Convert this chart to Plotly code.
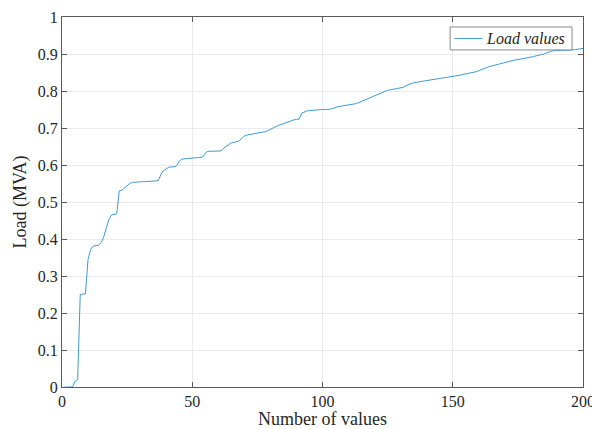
import plotly.graph_objects as go

load_values = [
    0.0, 0.0, 0.0, 0.0, 0.015, 0.02, 0.25, 0.25, 0.252, 0.345,
    0.372, 0.381, 0.383, 0.383, 0.39, 0.405, 0.43, 0.452, 0.465, 0.467,
    0.468, 0.53, 0.532, 0.538, 0.545, 0.55, 0.553, 0.554, 0.555, 0.555,
    0.555, 0.555, 0.555, 0.556, 0.556, 0.557, 0.558, 0.575, 0.585, 0.59,
    0.594, 0.595, 0.595, 0.598, 0.61, 0.616, 0.617, 0.618, 0.618, 0.618,
    0.619, 0.62, 0.62, 0.622, 0.632, 0.637, 0.637, 0.637, 0.638, 0.638,
    0.638, 0.645, 0.65, 0.656, 0.66, 0.661, 0.662, 0.665, 0.672, 0.678,
    0.681, 0.682, 0.683, 0.684, 0.685, 0.686, 0.688, 0.69, 0.693, 0.697,
    0.701, 0.704, 0.707, 0.709, 0.712, 0.715, 0.718, 0.72, 0.722, 0.723,
    0.724, 0.74, 0.744, 0.746, 0.747, 0.748, 0.748, 0.749, 0.749, 0.75,
    0.75, 0.75, 0.751, 0.753, 0.756, 0.758, 0.759, 0.76, 0.761, 0.762,
    0.763, 0.765, 0.766, 0.769, 0.772, 0.775, 0.778, 0.78, 0.783, 0.786,
    0.79, 0.794, 0.796, 0.799, 0.802, 0.803, 0.804, 0.805, 0.806, 0.807,
    0.81, 0.814, 0.818, 0.82, 0.822, 0.824, 0.825, 0.826, 0.827, 0.828,
    0.829, 0.83, 0.831, 0.832, 0.833, 0.834, 0.835, 0.836, 0.838, 0.839,
    0.84, 0.842, 0.843, 0.845, 0.846, 0.848, 0.849, 0.851, 0.852, 0.855,
    0.857, 0.86, 0.863, 0.866, 0.868, 0.869, 0.871, 0.874, 0.876, 0.878,
    0.879, 0.881, 0.883, 0.884, 0.885, 0.886, 0.888, 0.889, 0.89, 0.892,
    0.893, 0.895, 0.896, 0.898, 0.9, 0.903, 0.906, 0.908, 0.909, 0.909,
    0.909, 0.909, 0.91, 0.91, 0.91, 0.911, 0.912, 0.913, 0.914, 0.915,
]
sample_index = list(range(1, len(load_values) + 1))
series_name = "Load values"

x_ticks = [0, 50, 100, 150, 200]
y_ticks = [0, 0.1, 0.2, 0.3, 0.4, 0.5, 0.6, 0.7, 0.8, 0.9, 1]
y_tick_labels = ["0", "0.1", "0.2", "0.3", "0.4", "0.5", "0.6", "0.7", "0.8", "0.9", "1"]

FONT = "Times New Roman"
TXT = "#262626"
AX = "#5a5a5a"
GRID = "#ebebeb"
LINE = "#3f9ad3"

fig = go.Figure()
fig.add_trace(go.Scatter(
    x=sample_index, y=load_values, mode="lines",
    name=series_name, showlegend=False,
    line=dict(color=LINE, width=1),
))

axis_common = dict(
    showline=True, linecolor=AX, linewidth=1, mirror="ticks",
    ticks="inside", ticklen=5, tickcolor=AX, tickwidth=1,
    showgrid=True, gridcolor=GRID, gridwidth=1, zeroline=False,
    tickfont=dict(family=FONT, size=16, color=TXT),
    automargin=False,
)

fig.update_xaxes(
    range=[0, 200], tickvals=x_ticks, ticktext=[str(v) for v in x_ticks],
    title=dict(text="Number of values", font=dict(family=FONT, size=18, color=TXT), standoff=2),
    **axis_common,
)
fig.update_yaxes(
    range=[0, 1], tickvals=y_ticks, ticktext=y_tick_labels,
    title=dict(text="Load (MVA)", font=dict(family=FONT, size=18, color=TXT), standoff=6),
    **axis_common,
)

# legend box (MATLAB style) drawn in paper coordinates
fig.add_shape(type="rect", xref="paper", yref="paper",
              x0=0.745, x1=0.979, y0=0.911, y1=0.973,
              fillcolor="white", line=dict(color="#8a8a8a", width=1), layer="above")
fig.add_shape(type="line", xref="paper", yref="paper",
              x0=0.753, x1=0.807, y0=0.942, y1=0.942,
              line=dict(color=LINE, width=1), layer="above")
fig.add_annotation(xref="paper", yref="paper", x=0.810, y=0.942,
                   xanchor="left", yanchor="middle", showarrow=False,
                   text="<i>" + series_name + "</i>",
                   font=dict(family=FONT, size=16, color=TXT))

fig.update_layout(
    width=592, height=421,
    margin=dict(l=54, r=17, t=9, b=42),
    paper_bgcolor="white", plot_bgcolor="white",
    showlegend=False,
    font=dict(family=FONT, color=TXT),
)

fig.write_html("out.html")
